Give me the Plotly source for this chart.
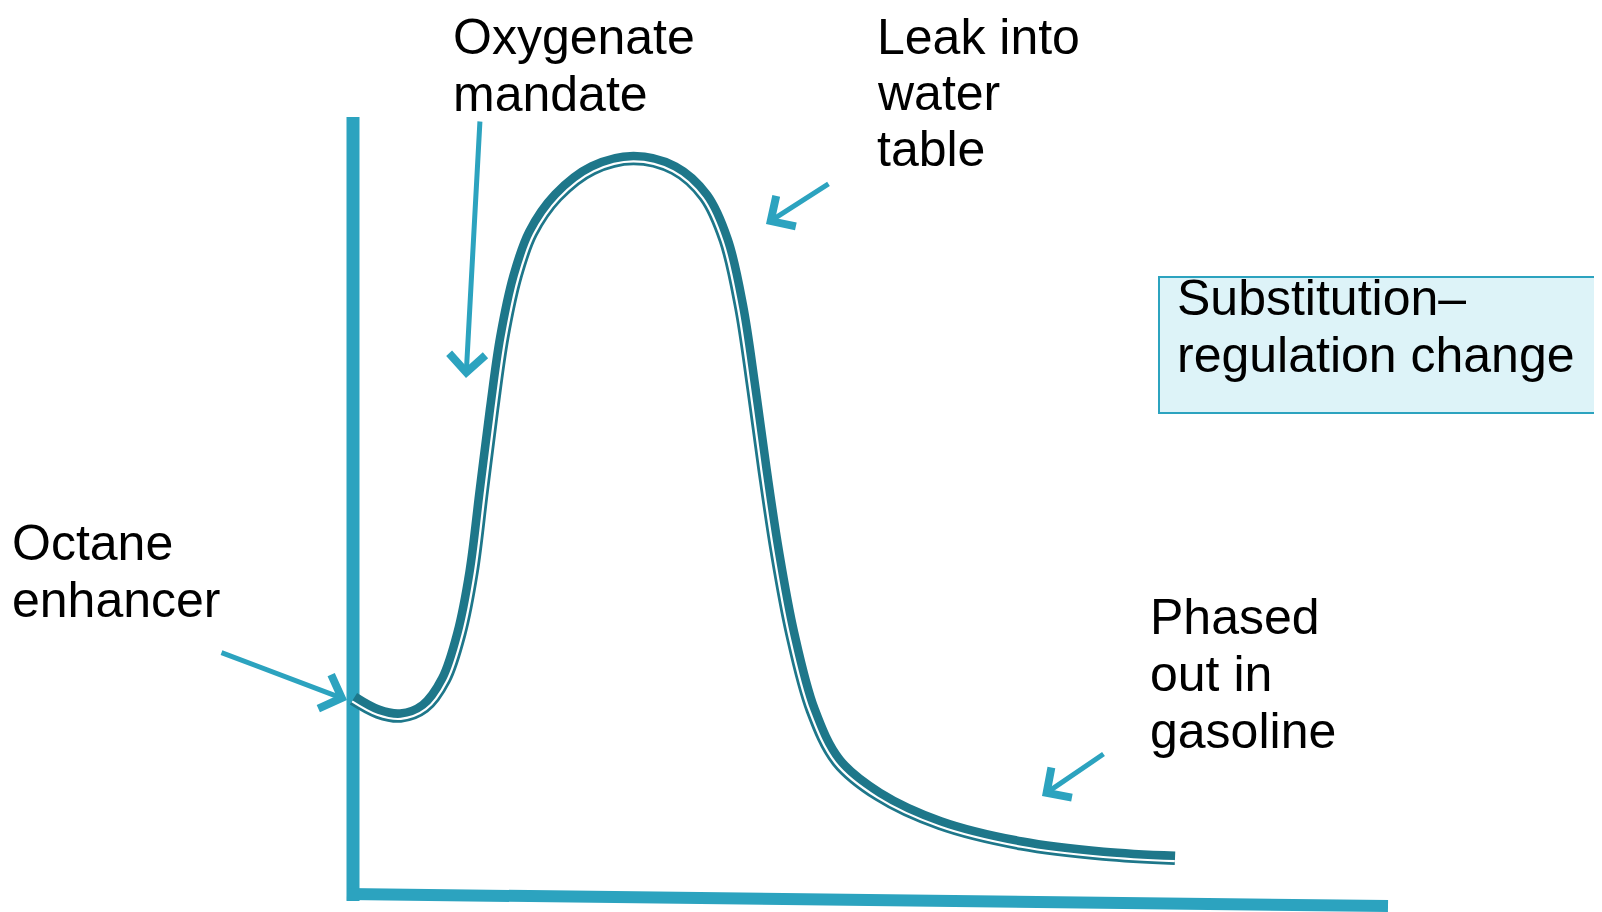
import numpy as np
import plotly.graph_objects as go

# ---- data (units = pixels of the 1602x912 reference) ----
curve_x = [353.5, 378, 400.5, 424, 444.4, 459.8, 472, 482.2, 492.5, 502.7, 516, 531.3,
           556.8, 592.6, 633.5, 674.3, 705, 725.4, 740.7, 753, 764.2, 776.5, 791.8,
           812.3, 837.8, 878.7, 940, 1021.7, 1103.4, 1175]
curve_y = [698.8, 712, 716, 707, 679.4, 633.5, 572, 490.4, 408.7, 337.2, 275.9, 233,
           196.2, 168.6, 158.4, 168.6, 196.2, 240.1, 306.5, 388.2, 470, 551.7, 633.5,
           710, 761.2, 794.9, 823.5, 843.9, 854.1, 858.2]

vaxis_x = [353, 353]
vaxis_y = [117, 901]
haxis_x = [347, 1388]
haxis_y = [894, 906]

# arrows: (tail_x, tail_y, tip_x, tip_y)
arrow_tail_x = [220, 480, 830, 1105]
arrow_tail_y = [652, 120, 183, 753]
arrow_tip_x = [347, 466, 766, 1042]
arrow_tip_y = [700, 378, 224, 796]

# text lines: (text, left x, baseline y)
label_lines = ["Oxygenate", "mandate", "Leak into", "water", "table",
               "Octane", "enhancer", "Phased", "out in", "gasoline",
               "Substitution–", "regulation change"]
label_x = [452, 452, 876, 876, 876, 11, 11, 1149, 1149, 1149, 1176, 1176]
label_base = [54, 111, 54, 110, 166, 560, 617, 634, 691, 748, 315, 372]

box_x = [1159, 1640]
box_y = [277, 413]

AXIS_C = "#2CA3BF"
CURVE_C = "#1E778A"
FONT = "Liberation Sans"
FSIZE = 50
PAGE_MARGIN = 8  # default body margin of the html page
W, H = 1602, 912

fig = go.Figure()

# axes drawn as thick lines
fig.add_trace(go.Scatter(x=vaxis_x, y=vaxis_y, mode="lines",
                         line=dict(color=AXIS_C, width=13), hoverinfo="skip"))
fig.add_trace(go.Scatter(x=haxis_x, y=haxis_y, mode="lines",
                         line=dict(color=AXIS_C, width=12), hoverinfo="skip"))

# double curve: thick dark band with a thin white gap offset to the right of travel
cx = np.array(curve_x, dtype=float)
cy = np.array(curve_y, dtype=float)
dx = np.gradient(cx)
dy = np.gradient(cy)
L = np.hypot(dx, dy)
nx = -dy / L
ny = dx / L
off = 2.9
gx = cx + off * nx
gy = cy + off * ny

fig.add_trace(go.Scatter(x=curve_x, y=curve_y, mode="lines",
                         line=dict(color=CURVE_C, width=13.5, shape="spline", smoothing=1),
                         hoverinfo="skip"))
fig.add_trace(go.Scatter(x=gx, y=gy, mode="lines",
                         line=dict(color="white", width=2.2, shape="spline", smoothing=1),
                         hoverinfo="skip"))

# box
fig.add_shape(type="rect", x0=box_x[0], x1=box_x[1], y0=box_y[0], y1=box_y[1],
              xref="x", yref="y", fillcolor="#DDF3F8",
              line=dict(color=AXIS_C, width=2), layer="below")

annotations = []
for tx, ty, hx, hy in zip(arrow_tail_x, arrow_tail_y, arrow_tip_x, arrow_tip_y):
    annotations.append(dict(x=hx, y=hy, ax=tx, ay=ty, xref="x", yref="y",
                            axref="x", ayref="y", text="", showarrow=True,
                            arrowhead=4, arrowsize=1.4, arrowwidth=5,
                            arrowcolor=AXIS_C, standoff=0))
for t, lx, by in zip(label_lines, label_x, label_base):
    annotations.append(dict(x=lx, y=by - 0.345 * FSIZE, xref="x", yref="y",
                            text=t, showarrow=False, xanchor="left", yanchor="middle",
                            borderpad=0,
                            font=dict(family=FONT, size=FSIZE, color="black")))

fig.update_layout(
    width=W - PAGE_MARGIN, height=H - PAGE_MARGIN,
    margin=dict(l=0, r=0, t=0, b=0),
    paper_bgcolor="white", plot_bgcolor="white",
    showlegend=False,
    xaxis=dict(range=[PAGE_MARGIN, W], visible=False, fixedrange=True),
    yaxis=dict(range=[H, PAGE_MARGIN], visible=False, fixedrange=True),
    annotations=annotations,
)

fig.write_html("out.html")
